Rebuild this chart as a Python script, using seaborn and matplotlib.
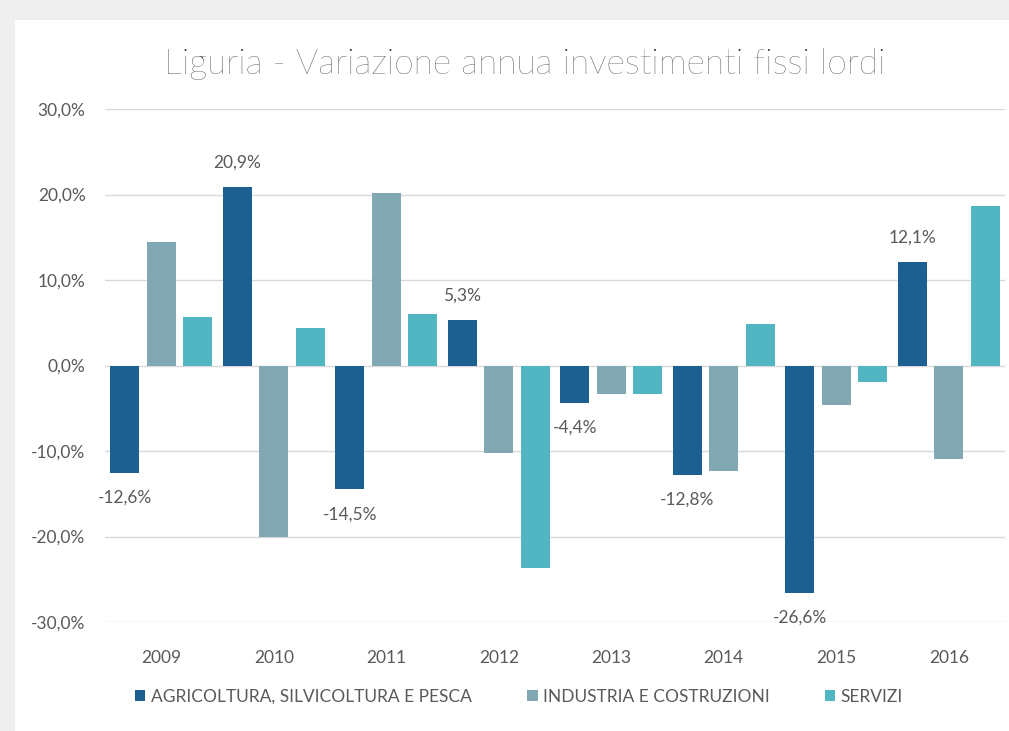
import numpy as np
import pandas as pd
import seaborn as sns
import matplotlib.pyplot as plt
from matplotlib.patches import Rectangle

years = ['2009', '2010', '2011', '2012', '2013', '2014', '2015', '2016']
series = ['AGRICOLTURA, SILVICOLTURA E PESCA', 'INDUSTRIA E COSTRUZIONI', 'SERVIZI']
agricoltura = [-12.6, 20.9, -14.5, 5.3, -4.4, -12.8, -26.6, 12.1]
industria = [14.5, -20.0, 20.2, -10.2, -3.3, -12.3, -4.6, -10.9]
servizi = [5.7, 4.4, 6.0, -23.7, -3.3, 4.9, -1.9, 18.7]
colors = ['#1c5f91', '#82a8b4', '#52b5c2']

df = pd.DataFrame({
    'anno': years * 3,
    'settore': [series[0]] * 8 + [series[1]] * 8 + [series[2]] * 8,
    'valore': agricoltura + industria + servizi,
})

sns.set_style("white")
plt.rcParams['font.family'] = ['Lato', 'DejaVu Sans']
text_col = '#595959'

fig = plt.figure(figsize=(10.09, 7.31), dpi=100, facecolor='#efefef')
# white card of the screenshot
fig.add_artist(Rectangle((15 / 1009, 0), 1, 1 - 20 / 731, transform=fig.transFigure,
                         facecolor='white', edgecolor='none', zorder=-5))
ax = fig.add_axes([105 / 1009, 1 - 622 / 731, 900 / 1009, 513 / 731])
ax.set_facecolor('none')

sns.barplot(data=df, x='anno', y='valore', hue='settore', palette=colors, saturation=1,
            width=0.97, gap=0.2, linewidth=0, ax=ax, legend=True, zorder=3)

ax.set_ylim(-30, 30)
ax.set_yticks(np.arange(-30, 31, 10))
ax.set_yticklabels([f'{v:.1f}%'.replace('.', ',') for v in np.arange(-30, 31, 10)])
ax.yaxis.grid(True, color='#d9d9d9', linewidth=1, zorder=0)
ax.set_axisbelow(True)
for s in ax.spines.values():
    s.set_visible(False)
ax.tick_params(axis='both', length=0, labelsize=12.5, colors=text_col)
ax.tick_params(axis='x', pad=20)
ax.tick_params(axis='y', pad=14)
ax.set_xlabel('')
ax.set_ylabel('')

labels = [f'{v:.1f}%'.replace('.', ',') for v in agricoltura]
ax.bar_label(ax.containers[0], labels=labels, padding=12, fontsize=12.5, color=text_col)

ax.legend(loc='upper center', bbox_to_anchor=(0.46, -0.1), ncol=3, frameon=False,
          fontsize=12.5, labelcolor=text_col, handlelength=0.6, handleheight=0.6,
          handletextpad=0.3, columnspacing=3.2)

fig.suptitle('Liguria - Variazione annua investimenti fissi lordi', x=0.52, y=0.935,
             fontsize=25.5, color='#2b2b2b', fontweight='light')

fig.savefig('out.png', dpi=100, facecolor=fig.get_facecolor())
